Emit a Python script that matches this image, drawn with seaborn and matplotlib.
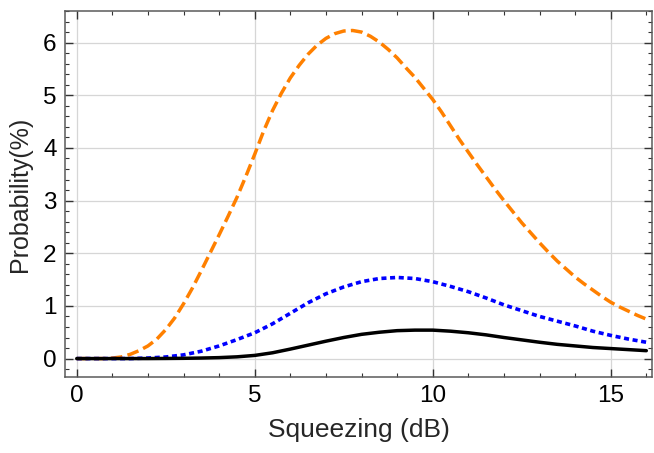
import numpy as np
import pandas as pd
import matplotlib
matplotlib.use("Agg")
import matplotlib.pyplot as plt
import seaborn as sns
from matplotlib.ticker import MultipleLocator

# Data
orange_x = [0.0, 0.25, 0.5, 0.75, 1.0, 1.25, 1.5, 1.75, 2.0, 2.25, 2.5, 2.75, 3.0, 3.25,
            3.5, 3.75, 4.0, 4.25, 4.5, 4.75, 5.0, 5.25, 5.5, 5.75, 6.0, 6.25, 6.5, 6.75,
            7.0, 7.25, 7.5, 7.75, 8.0, 8.25, 8.5, 8.75, 9.0, 9.25, 9.5, 9.75, 10.0,
            10.25, 10.5, 10.75, 11.0, 11.25, 11.5, 11.75, 12.0, 12.25, 12.5, 12.75,
            13.0, 13.25, 13.5, 13.75, 14.0, 14.25, 14.5, 14.75, 15.0, 15.25, 15.5,
            15.75, 16.0]
orange_vals = [0.00, 0.00, 0.00, 0.00, 0.01, 0.03, 0.08, 0.15, 0.24, 0.37, 0.55, 0.77,
               1.04, 1.34, 1.67, 2.01, 2.35, 2.70, 3.06, 3.46, 3.88, 4.32, 4.71, 5.04,
               5.33, 5.57, 5.78, 5.95, 6.08, 6.17, 6.22, 6.23, 6.20, 6.12, 6.01, 5.87,
               5.71, 5.52, 5.34, 5.13, 4.92, 4.68, 4.42, 4.16, 3.92, 3.68, 3.45, 3.22,
               3.00, 2.79, 2.58, 2.39, 2.20, 2.02, 1.85, 1.70, 1.55, 1.42, 1.30, 1.18,
               1.07, 0.98, 0.90, 0.82, 0.75]
squeezing = [0.0, 0.5, 1.0, 1.5, 2.0, 2.5, 3.0, 3.5, 4.0, 4.5, 5.0, 5.5, 6.0, 6.5,
             7.0, 7.5, 8.0, 8.5, 9.0, 9.5, 10.0, 10.5, 11.0, 11.5, 12.0, 12.5,
             13.0, 13.5, 14.0, 14.5, 15.0, 15.5, 16.0]
blue_vals = [0.00, 0.00, 0.00, 0.00, 0.01, 0.03, 0.07, 0.14, 0.24, 0.36, 0.49, 0.66,
             0.86, 1.06, 1.23, 1.36, 1.46, 1.52, 1.54, 1.52, 1.46, 1.37, 1.27, 1.15,
             1.02, 0.91, 0.80, 0.71, 0.62, 0.52, 0.44, 0.37, 0.31]
black_vals = [0.00, 0.00, 0.00, 0.00, 0.00, 0.002, 0.005, 0.01, 0.018, 0.033, 0.06, 0.11,
              0.18, 0.255, 0.33, 0.40, 0.46, 0.50, 0.53, 0.54, 0.54, 0.52, 0.49, 0.45,
              0.40, 0.355, 0.31, 0.27, 0.24, 0.21, 0.19, 0.17, 0.15]
x_ticks = [0, 5, 10, 15]
y_ticks = [0, 1, 2, 3, 4, 5, 6]

sns.set_style("ticks")
plt.rcParams['font.family'] = ['Liberation Sans', 'DejaVu Sans']

fig = plt.figure(figsize=(6.54, 4.53), dpi=100)
ax = fig.add_axes([65/654, 1 - 377/453, (652 - 65)/654, (377 - 11)/453])

df_o = pd.DataFrame({"x": orange_x, "y": orange_vals})
df = pd.DataFrame({"x": squeezing, "blue": blue_vals, "black": black_vals})

sns.lineplot(data=df_o, x="x", y="y", ax=ax, color="#FF8000", lw=2.5)
ax.lines[-1].set_dashes([3.4, 1.5])
ax.lines[-1].set_dash_capstyle("butt")
sns.lineplot(data=df, x="x", y="blue", ax=ax, color="#0000FF", lw=2.6)
ax.lines[-1].set_dashes([1.4, 1.0])
ax.lines[-1].set_dash_capstyle("butt")
sns.lineplot(data=df, x="x", y="black", ax=ax, color="black", lw=2.5)

ax.set_xlim(-0.33, 16.16)
ax.set_ylim(-0.35, 6.6)
ax.set_xticks(x_ticks)
ax.set_yticks(y_ticks)
ax.xaxis.set_minor_locator(MultipleLocator(1))
ax.yaxis.set_minor_locator(MultipleLocator(0.2))
ax.grid(True, which="major", color="#d6d6d6", lw=0.9)
ax.set_axisbelow(True)

for s in ax.spines.values():
    s.set_color("#5a5a5a")
    s.set_linewidth(1.1)
    s.set_visible(True)

ax.tick_params(which="both", direction="in", top=True, right=True,
               color="#333333", labelsize=17.5, labelcolor="black")
ax.tick_params(which="major", length=5.5, width=1.0, pad=6)
ax.tick_params(which="minor", length=3, width=0.8)

ax.set_xlabel("Squeezing (dB)", fontsize=19, labelpad=8)
ax.set_ylabel("Probability(%)", fontsize=18, labelpad=8)

fig.savefig("out.png", dpi=100)
